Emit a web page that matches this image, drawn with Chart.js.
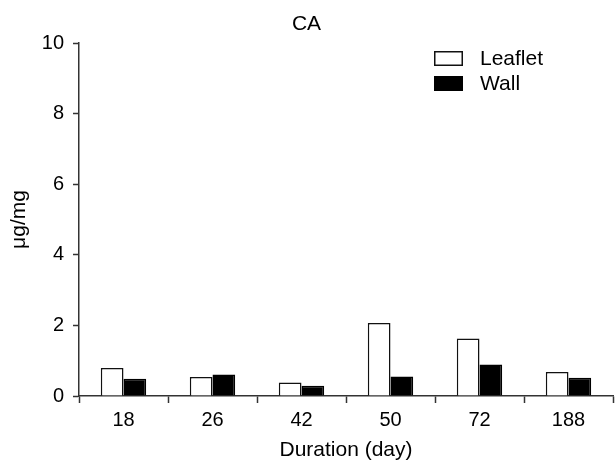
<!DOCTYPE html>
<html>
<head>
<meta charset="utf-8">
<script src="https://cdn.jsdelivr.net/npm/chart.js@4"></script>
<style>
  html, body { margin: 0; padding: 0; background: #fff; }
  #wrap { width: 615px; height: 463px; }
</style>
</head>
<body>
<div id="wrap"><canvas id="graph_ca" width="615" height="463"></canvas></div>
<script>
var durations = ["18", "26", "42", "50", "72", "188"];
var leaflet = [0.79, 0.54, 0.38, 2.07, 1.63, 0.68];
var wall = [0.49, 0.61, 0.29, 0.55, 0.89, 0.52];
var y_ticks = [0, 2, 4, 6, 8, 10];

var font_face = "'Liberation Sans', Arial, sans-serif";

// legend drawn by hand, top right like the original figure
var box_legend = {
    id: 'box_legend',
    afterDraw: function(chart) {
        var ctx = chart.ctx;
        var sets = chart.data.datasets;
        ctx.save();
        ctx.font = "21px " + font_face;
        ctx.textBaseline = 'middle';
        for (var i = 0; i < sets.length; i++) {
            var y = 51 + i * 25;
            ctx.fillStyle = sets[i].backgroundColor;
            ctx.fillRect(434, y, 29, 15);
            ctx.lineWidth = 1.5;
            ctx.strokeStyle = sets[i].borderColor;
            ctx.strokeRect(434.75, y + 0.75, 27.5, 13.5);
            ctx.fillStyle = "#000";
            ctx.fillText(sets[i].label, 480, y + 8);
        }
        ctx.restore();
    }
};

var data_ca = {
    labels: durations,
    datasets: [
        {
            label: "Leaflet",
            backgroundColor: "#fff",
            borderColor: "#111",
            borderWidth: 1.5,
            data: leaflet
        },
        {
            label: "Wall",
            backgroundColor: "#000",
            borderColor: "#000",
            borderWidth: 1.5,
            data: wall
        }
    ]
};

var options = {
    responsive: false,
    animation: false,
    layout: { padding: { left: 0, right: 2, top: 0, bottom: 0 } },
    datasets: { bar: { categoryPercentage: 0.51, barPercentage: 1.0 } },
    plugins: {
        legend: { display: false },
        tooltip: { enabled: false },
        title: {
            display: true,
            text: "CA",
            color: "#000",
            font: { family: font_face, size: 21, weight: 'normal' },
            padding: { top: 12, bottom: 5.8 }
        }
    },
    scales: {
        x: {
            grid: { offset: true, drawOnChartArea: false, tickLength: 7, tickColor: "#333", tickWidth: 1.5 },
            border: { display: true, color: "#333", width: 1.5 },
            ticks: { color: "#000", padding: 5, font: { family: font_face, size: 20 } },
            title: {
                display: true,
                text: "Duration (day)",
                color: "#000",
                font: { family: font_face, size: 21 },
                padding: { top: 0, bottom: 0 }
            },
            afterFit: function(scale) { scale.height = 67; }
        },
        y: {
            min: 0,
            max: 10,
            afterBuildTicks: function(scale) {
                scale.ticks = y_ticks.map(function(v) { return { value: v }; });
            },
            grid: { drawOnChartArea: false, tickLength: 6, tickColor: "#333", tickWidth: 1.5 },
            border: { display: true, color: "#333", width: 1.5 },
            ticks: { color: "#000", padding: 9, font: { family: font_face, size: 20 } },
            title: {
                display: true,
                text: "μg/mg",
                color: "#000",
                font: { family: font_face, size: 21 },
                padding: { top: 7, bottom: 0 }
            },
            afterFit: function(scale) { scale.width = 79; }
        }
    }
};

var ctx_ca = document.getElementById("graph_ca").getContext("2d");

var barChart_ca = new Chart(ctx_ca, {
    type: 'bar',
    data: data_ca,
    options: options,
    plugins: [box_legend]
});
</script>
</body>
</html>
